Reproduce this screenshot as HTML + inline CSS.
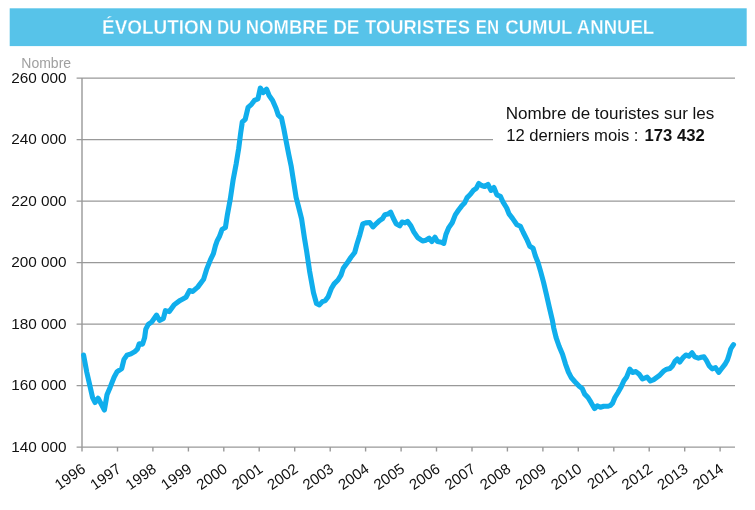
<!DOCTYPE html>
<html lang="fr"><head><meta charset="utf-8"><title>Évolution du nombre de touristes en cumul annuel</title>
<style>html,body{margin:0;padding:0;background:#fff;}body{width:755px;height:510px;position:relative;overflow:hidden;font-family:"Liberation Sans",sans-serif;}</style></head>
<body>
<svg width="755" height="510" viewBox="0 0 755 510" style="position:absolute;left:0;top:0">
<rect x="9.7" y="8.3" width="737" height="37.8" fill="#57c3e9"/>
<text y="33.8" font-family="'Liberation Sans', sans-serif" font-weight="bold" font-size="19.4" fill="#ffffff" stroke="#57c3e9" stroke-width="0.3"><tspan x="102.1" textLength="110.4" lengthAdjust="spacingAndGlyphs">ÉVOLUTION</tspan> <tspan x="217.1" textLength="24.3" lengthAdjust="spacingAndGlyphs">DU</tspan> <tspan x="245.8" textLength="82.2" lengthAdjust="spacingAndGlyphs">NOMBRE</tspan> <tspan x="333.2" textLength="26.3" lengthAdjust="spacingAndGlyphs">DE</tspan> <tspan x="365.1" textLength="104.8" lengthAdjust="spacingAndGlyphs">TOURISTES</tspan> <tspan x="475.8" textLength="23.3" lengthAdjust="spacingAndGlyphs">EN</tspan> <tspan x="505.2" textLength="67.0" lengthAdjust="spacingAndGlyphs">CUMUL</tspan> <tspan x="576.8" textLength="77.4" lengthAdjust="spacingAndGlyphs">ANNUEL</tspan></text>
<line x1="76.6" y1="78.15" x2="735" y2="78.15" stroke="#999999" stroke-width="1.4"/>
<line x1="76.6" y1="139.65" x2="735" y2="139.65" stroke="#999999" stroke-width="1.4"/>
<line x1="76.6" y1="201.15" x2="735" y2="201.15" stroke="#999999" stroke-width="1.4"/>
<line x1="76.6" y1="262.65" x2="735" y2="262.65" stroke="#999999" stroke-width="1.4"/>
<line x1="76.6" y1="324.15" x2="735" y2="324.15" stroke="#999999" stroke-width="1.4"/>
<line x1="76.6" y1="385.65" x2="735" y2="385.65" stroke="#999999" stroke-width="1.4"/>
<line x1="76.6" y1="447.15" x2="735" y2="447.15" stroke="#999999" stroke-width="1.4"/>
<rect x="493" y="96" width="250" height="62" fill="#ffffff"/>
<line x1="82" y1="78" x2="82" y2="451.5" stroke="#999999" stroke-width="1.4"/>
<line x1="117.5" y1="447" x2="117.5" y2="451.5" stroke="#999999" stroke-width="1.4"/>
<line x1="152.9" y1="447" x2="152.9" y2="451.5" stroke="#999999" stroke-width="1.4"/>
<line x1="188.4" y1="447" x2="188.4" y2="451.5" stroke="#999999" stroke-width="1.4"/>
<line x1="223.8" y1="447" x2="223.8" y2="451.5" stroke="#999999" stroke-width="1.4"/>
<line x1="259.2" y1="447" x2="259.2" y2="451.5" stroke="#999999" stroke-width="1.4"/>
<line x1="294.7" y1="447" x2="294.7" y2="451.5" stroke="#999999" stroke-width="1.4"/>
<line x1="330.2" y1="447" x2="330.2" y2="451.5" stroke="#999999" stroke-width="1.4"/>
<line x1="365.6" y1="447" x2="365.6" y2="451.5" stroke="#999999" stroke-width="1.4"/>
<line x1="401.1" y1="447" x2="401.1" y2="451.5" stroke="#999999" stroke-width="1.4"/>
<line x1="436.5" y1="447" x2="436.5" y2="451.5" stroke="#999999" stroke-width="1.4"/>
<line x1="472.0" y1="447" x2="472.0" y2="451.5" stroke="#999999" stroke-width="1.4"/>
<line x1="507.4" y1="447" x2="507.4" y2="451.5" stroke="#999999" stroke-width="1.4"/>
<line x1="542.9" y1="447" x2="542.9" y2="451.5" stroke="#999999" stroke-width="1.4"/>
<line x1="578.3" y1="447" x2="578.3" y2="451.5" stroke="#999999" stroke-width="1.4"/>
<line x1="613.8" y1="447" x2="613.8" y2="451.5" stroke="#999999" stroke-width="1.4"/>
<line x1="649.2" y1="447" x2="649.2" y2="451.5" stroke="#999999" stroke-width="1.4"/>
<line x1="684.7" y1="447" x2="684.7" y2="451.5" stroke="#999999" stroke-width="1.4"/>
<line x1="720.1" y1="447" x2="720.1" y2="451.5" stroke="#999999" stroke-width="1.4"/>
<text x="66.6" y="82.6" text-anchor="end" font-family="'Liberation Sans', sans-serif" font-size="15" fill="#111111" textLength="55.4" lengthAdjust="spacingAndGlyphs">260 000</text>
<text x="66.6" y="144.1" text-anchor="end" font-family="'Liberation Sans', sans-serif" font-size="15" fill="#111111" textLength="55.4" lengthAdjust="spacingAndGlyphs">240 000</text>
<text x="66.6" y="205.6" text-anchor="end" font-family="'Liberation Sans', sans-serif" font-size="15" fill="#111111" textLength="55.4" lengthAdjust="spacingAndGlyphs">220 000</text>
<text x="66.6" y="267.1" text-anchor="end" font-family="'Liberation Sans', sans-serif" font-size="15" fill="#111111" textLength="55.4" lengthAdjust="spacingAndGlyphs">200 000</text>
<text x="66.6" y="328.6" text-anchor="end" font-family="'Liberation Sans', sans-serif" font-size="15" fill="#111111" textLength="55.4" lengthAdjust="spacingAndGlyphs">180 000</text>
<text x="66.6" y="390.1" text-anchor="end" font-family="'Liberation Sans', sans-serif" font-size="15" fill="#111111" textLength="55.4" lengthAdjust="spacingAndGlyphs">160 000</text>
<text x="66.6" y="451.6" text-anchor="end" font-family="'Liberation Sans', sans-serif" font-size="15" fill="#111111" textLength="55.4" lengthAdjust="spacingAndGlyphs">140 000</text>
<text x="21.3" y="67.5" font-family="'Liberation Sans', sans-serif" font-size="14" fill="#a0a0a0">Nombre</text>
<text transform="translate(86.5,471.3) rotate(-35)" text-anchor="end" font-family="'Liberation Sans', sans-serif" font-size="15" fill="#111111">1996</text>
<text transform="translate(122.0,471.3) rotate(-35)" text-anchor="end" font-family="'Liberation Sans', sans-serif" font-size="15" fill="#111111">1997</text>
<text transform="translate(157.4,471.3) rotate(-35)" text-anchor="end" font-family="'Liberation Sans', sans-serif" font-size="15" fill="#111111">1998</text>
<text transform="translate(192.9,471.3) rotate(-35)" text-anchor="end" font-family="'Liberation Sans', sans-serif" font-size="15" fill="#111111">1999</text>
<text transform="translate(228.3,471.3) rotate(-35)" text-anchor="end" font-family="'Liberation Sans', sans-serif" font-size="15" fill="#111111">2000</text>
<text transform="translate(263.8,471.3) rotate(-35)" text-anchor="end" font-family="'Liberation Sans', sans-serif" font-size="15" fill="#111111">2001</text>
<text transform="translate(299.2,471.3) rotate(-35)" text-anchor="end" font-family="'Liberation Sans', sans-serif" font-size="15" fill="#111111">2002</text>
<text transform="translate(334.7,471.3) rotate(-35)" text-anchor="end" font-family="'Liberation Sans', sans-serif" font-size="15" fill="#111111">2003</text>
<text transform="translate(370.1,471.3) rotate(-35)" text-anchor="end" font-family="'Liberation Sans', sans-serif" font-size="15" fill="#111111">2004</text>
<text transform="translate(405.6,471.3) rotate(-35)" text-anchor="end" font-family="'Liberation Sans', sans-serif" font-size="15" fill="#111111">2005</text>
<text transform="translate(441.0,471.3) rotate(-35)" text-anchor="end" font-family="'Liberation Sans', sans-serif" font-size="15" fill="#111111">2006</text>
<text transform="translate(476.5,471.3) rotate(-35)" text-anchor="end" font-family="'Liberation Sans', sans-serif" font-size="15" fill="#111111">2007</text>
<text transform="translate(511.9,471.3) rotate(-35)" text-anchor="end" font-family="'Liberation Sans', sans-serif" font-size="15" fill="#111111">2008</text>
<text transform="translate(547.4,471.3) rotate(-35)" text-anchor="end" font-family="'Liberation Sans', sans-serif" font-size="15" fill="#111111">2009</text>
<text transform="translate(582.8,471.3) rotate(-35)" text-anchor="end" font-family="'Liberation Sans', sans-serif" font-size="15" fill="#111111">2010</text>
<text transform="translate(618.2,471.3) rotate(-35)" text-anchor="end" font-family="'Liberation Sans', sans-serif" font-size="15" fill="#111111">2011</text>
<text transform="translate(653.7,471.3) rotate(-35)" text-anchor="end" font-family="'Liberation Sans', sans-serif" font-size="15" fill="#111111">2012</text>
<text transform="translate(689.2,471.3) rotate(-35)" text-anchor="end" font-family="'Liberation Sans', sans-serif" font-size="15" fill="#111111">2013</text>
<text transform="translate(724.6,471.3) rotate(-35)" text-anchor="end" font-family="'Liberation Sans', sans-serif" font-size="15" fill="#111111">2014</text>
<path d="M83.6,355.1 L86.8,372.2 L89.7,384.9 L92.6,397.6 L95.0,402.5 L98.1,398.2 L101.5,404.5 L104.4,410.0 L107.0,394.7 L110.3,386.9 L114.2,377.0 L117.2,371.6 L121.7,368.6 L124.0,359.4 L127.0,355.1 L130.9,353.9 L134.8,351.6 L137.4,349.2 L139.3,343.7 L142.6,344.1 L144.6,337.8 L145.8,329.2 L148.3,324.3 L151.7,322.0 L156.6,315.1 L159.5,320.4 L163.4,318.4 L165.4,310.6 L169.3,311.6 L174.2,304.7 L180.1,300.4 L186.0,297.3 L189.5,290.6 L192.8,291.4 L197.7,287.1 L203.6,279.2 L206.6,269.4 L210.5,259.6 L213.4,253.7 L215.4,245.9 L217.0,241.2 L219.5,236.3 L222.1,229.4 L225.4,227.5 L227.4,214.7 L230.3,199.0 L233.2,179.4 L236.2,163.7 L238.7,148.4 L240.7,132.7 L242.3,122.0 L245.2,119.4 L248.1,107.3 L251.5,104.3 L254.4,100.4 L257.9,99.0 L260.3,88.0 L263.2,92.5 L266.6,89.2 L269.1,95.5 L272.6,100.4 L276.0,108.2 L278.3,115.1 L281.5,118.0 L283.8,128.8 L286.4,142.5 L288.7,154.3 L291.1,165.7 L293.3,179.6 L296.1,197.3 L298.6,207.0 L301.6,218.8 L304.5,238.4 L306.7,251.6 L309.6,271.2 L313.5,292.7 L316.5,303.5 L319.4,304.9 L322.4,301.6 L325.3,300.6 L328.2,296.7 L331.2,288.8 L334.1,283.9 L338.0,280.0 L341.0,275.1 L343.3,268.2 L346.9,263.3 L350.8,257.5 L354.7,252.5 L357.1,243.7 L359.9,234.7 L362.8,223.9 L365.8,222.9 L369.7,222.5 L373.0,226.9 L376.6,223.3 L379.5,220.6 L382.5,218.6 L384.8,214.7 L387.9,214.1 L390.7,212.2 L393.2,218.0 L396.2,223.9 L399.7,225.9 L402.1,222.0 L405.0,222.9 L407.5,221.4 L410.9,225.9 L413.8,231.8 L417.7,237.6 L422.6,241.0 L426.0,240.2 L429.1,238.2 L431.9,241.6 L435.0,237.3 L437.4,241.6 L441.3,242.2 L443.8,243.4 L445.9,234.5 L448.8,227.6 L452.2,222.7 L455.3,214.9 L458.6,210.0 L461.6,206.1 L464.5,203.1 L467.1,197.6 L470.4,194.3 L473.3,190.4 L476.3,188.4 L478.8,183.5 L481.6,185.5 L484.7,186.5 L488.0,184.5 L491.0,190.4 L493.9,187.5 L496.9,194.9 L500.4,196.3 L503.1,202.2 L506.7,208.0 L509.0,213.9 L512.5,218.4 L516.9,224.7 L520.4,226.3 L523.3,232.5 L527.3,240.4 L529.8,246.3 L533.1,248.2 L535.3,255.7 L538.0,262.5 L540.6,271.4 L543.5,282.2 L546.5,294.9 L549.4,307.6 L552.4,320.4 L553.7,327.8 L556.1,337.6 L559.2,346.5 L562.5,354.3 L565.5,364.1 L568.4,372.0 L571.4,377.8 L574.9,381.8 L579.2,386.3 L582.2,388.6 L584.7,394.1 L588.0,397.5 L591.0,402.4 L594.5,408.6 L597.3,405.9 L600.4,407.3 L603.7,406.3 L607.6,406.3 L610.6,405.3 L612.5,403.3 L614.9,397.5 L618.0,392.5 L620.8,387.6 L623.9,380.8 L626.7,376.9 L629.8,369.1 L632.6,372.4 L635.9,371.6 L639.2,374.3 L642.5,379.0 L647.1,377.1 L650.4,381.0 L653.7,379.6 L659.2,375.7 L663.5,371.2 L666.7,369.2 L670.0,368.4 L672.5,365.9 L674.9,361.4 L677.3,359.0 L679.8,362.0 L682.8,357.9 L685.8,355.0 L688.9,356.2 L692.1,352.8 L694.8,356.9 L698.4,358.1 L701.3,357.3 L704.0,356.8 L706.4,360.4 L709.1,365.7 L712.1,368.8 L715.5,367.6 L718.7,372.4 L721.5,368.8 L724.9,364.4 L727.4,360.0 L729.3,354.1 L730.7,349.0 L732.2,346.5 L733.5,344.6" fill="none" stroke="#10aeec" stroke-width="5.1" stroke-linejoin="round" stroke-linecap="round"/>
<text x="505.7" y="118.5" font-family="'Liberation Sans', sans-serif" font-size="15.8" fill="#111111" textLength="208.7" lengthAdjust="spacingAndGlyphs">Nombre de touristes sur les</text>
<text x="506.2" y="141" font-family="'Liberation Sans', sans-serif" font-size="15.8" fill="#111111" ><tspan textLength="132.3" lengthAdjust="spacingAndGlyphs">12 derniers mois :</tspan> <tspan font-weight="bold" x="644.6" textLength="60.2" lengthAdjust="spacingAndGlyphs">173 432</tspan></text>
</svg>
</body></html>
